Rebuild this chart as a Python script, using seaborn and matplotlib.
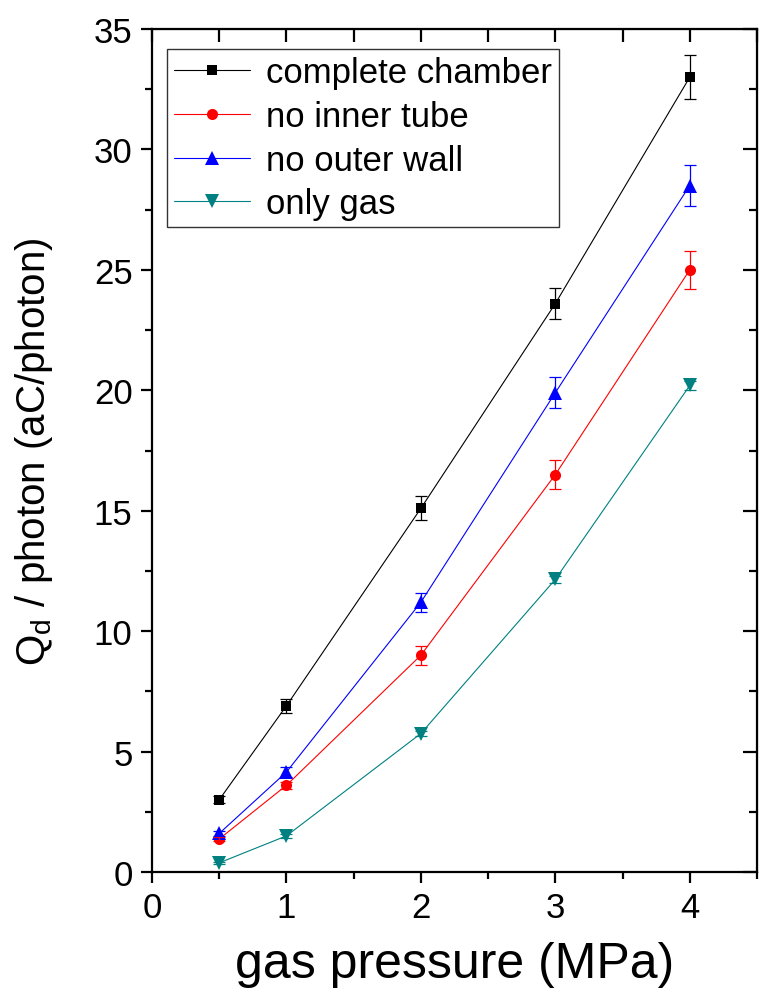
import matplotlib
matplotlib.use("Agg")
import matplotlib.pyplot as plt
from matplotlib.ticker import MultipleLocator
import numpy as np
import pandas as pd
import seaborn as sns

# gas pressure (MPa)
pressure = [0.5, 1, 2, 3, 4]

series_names = ["complete chamber", "no inner tube", "no outer wall", "only gas"]
complete_chamber = [3.0, 6.9, 15.1, 23.6, 33.0]
no_inner_tube = [1.37, 3.6, 9.0, 16.5, 25.0]
no_outer_wall = [1.6, 4.15, 11.2, 19.9, 28.5]
only_gas = [0.38, 1.5, 5.75, 12.15, 20.2]

err_complete = [0.15, 0.3, 0.5, 0.65, 0.9]
err_inner = [0.1, 0.15, 0.4, 0.6, 0.78]
err_outer = [0.1, 0.2, 0.4, 0.65, 0.85]
err_gas = [0.05, 0.08, 0.1, 0.15, 0.2]

colors = ["#000000", "#ff0000", "#0000ff", "#008080"]
markers = ["s", "o", "^", "v"]
marker_sizes = [7, 8, 10, 10]

values = [complete_chamber, no_inner_tube, no_outer_wall, only_gas]
errors = [err_complete, err_inner, err_outer, err_gas]

rows = []
for name, vals, errs in zip(series_names, values, errors):
    for p, v, e in zip(pressure, vals, errs):
        rows.append({"pressure": p, "charge": v, "err": e, "series": name})
df = pd.DataFrame(rows)

sns.set_style("ticks")
plt.rcParams["font.family"] = ["Liberation Sans", "DejaVu Sans"]
plt.rcParams.update({"text.color": "black", "axes.labelcolor": "black",
                     "xtick.color": "black", "ytick.color": "black"})

fig = plt.figure(figsize=(7.59, 10.03), dpi=100)
ax = fig.add_axes([152 / 759, 130 / 1003, 605 / 759, 843 / 1003])

palette = dict(zip(series_names, colors))
sns.lineplot(
    data=df, x="pressure", y="charge", hue="series", style="series",
    hue_order=series_names, style_order=series_names,
    palette=palette, markers=dict(zip(series_names, markers)), dashes=False,
    linewidth=0.8, markersize=8, markeredgewidth=0, ax=ax,
)
for line, ms in zip(ax.get_lines(), marker_sizes):
    line.set_markersize(ms)

for name, color in zip(series_names, colors):
    sub = df[df["series"] == name]
    ax.errorbar(sub["pressure"], sub["charge"], yerr=sub["err"], fmt="none",
                ecolor=color, elinewidth=0.9, capsize=4.5, capthick=0.9)

ax.set_xlim(0, 4.5)
ax.set_ylim(0, 35)
ax.xaxis.set_major_locator(MultipleLocator(1))
ax.xaxis.set_minor_locator(MultipleLocator(0.5))
ax.yaxis.set_major_locator(MultipleLocator(5))
ax.yaxis.set_minor_locator(MultipleLocator(2.5))

for s in ax.spines.values():
    s.set_visible(True)
    s.set_linewidth(1.6)
    s.set_color("black")

ax.tick_params(which="major", direction="out", length=8, width=1.6,
               labelsize=25, colors="black", pad=6)
ax.tick_params(which="minor", direction="out", length=5, width=1.6)

top = ax.secondary_xaxis("top")
top.xaxis.set_major_locator(MultipleLocator(1))
top.xaxis.set_minor_locator(MultipleLocator(0.5))
top.tick_params(which="major", direction="in", length=9, width=1.6, labeltop=False)
top.tick_params(which="minor", direction="in", length=9, width=1.6)
right = ax.secondary_yaxis("right")
right.yaxis.set_major_locator(MultipleLocator(5))
right.yaxis.set_minor_locator(MultipleLocator(2.5))
right.tick_params(which="major", direction="in", length=10, width=1.6, labelright=False)
right.tick_params(which="minor", direction="in", length=6, width=1.6)

ax.set_xlabel("gas pressure (MPa)", fontsize=36, labelpad=12, color="black")
ax.set_ylabel("Q$_\\mathregular{d}$ / photon (aC/photon)", fontsize=29, labelpad=28,
              color="black")

leg = ax.legend(
    loc="upper left", bbox_to_anchor=(0.025, 0.976), borderaxespad=0,
    fontsize=25, frameon=True, fancybox=False, edgecolor="black",
    handlelength=2.2, handletextpad=0.45, labelspacing=0.31, borderpad=0.2,
)
leg.get_frame().set_linewidth(1.0)
for line, ms in zip(leg.get_lines(), marker_sizes):
    line.set_linewidth(0.8)
    line.set_markersize(ms)
for t in leg.get_texts():
    t.set_color("black")

fig.savefig("out.png", dpi=100)
